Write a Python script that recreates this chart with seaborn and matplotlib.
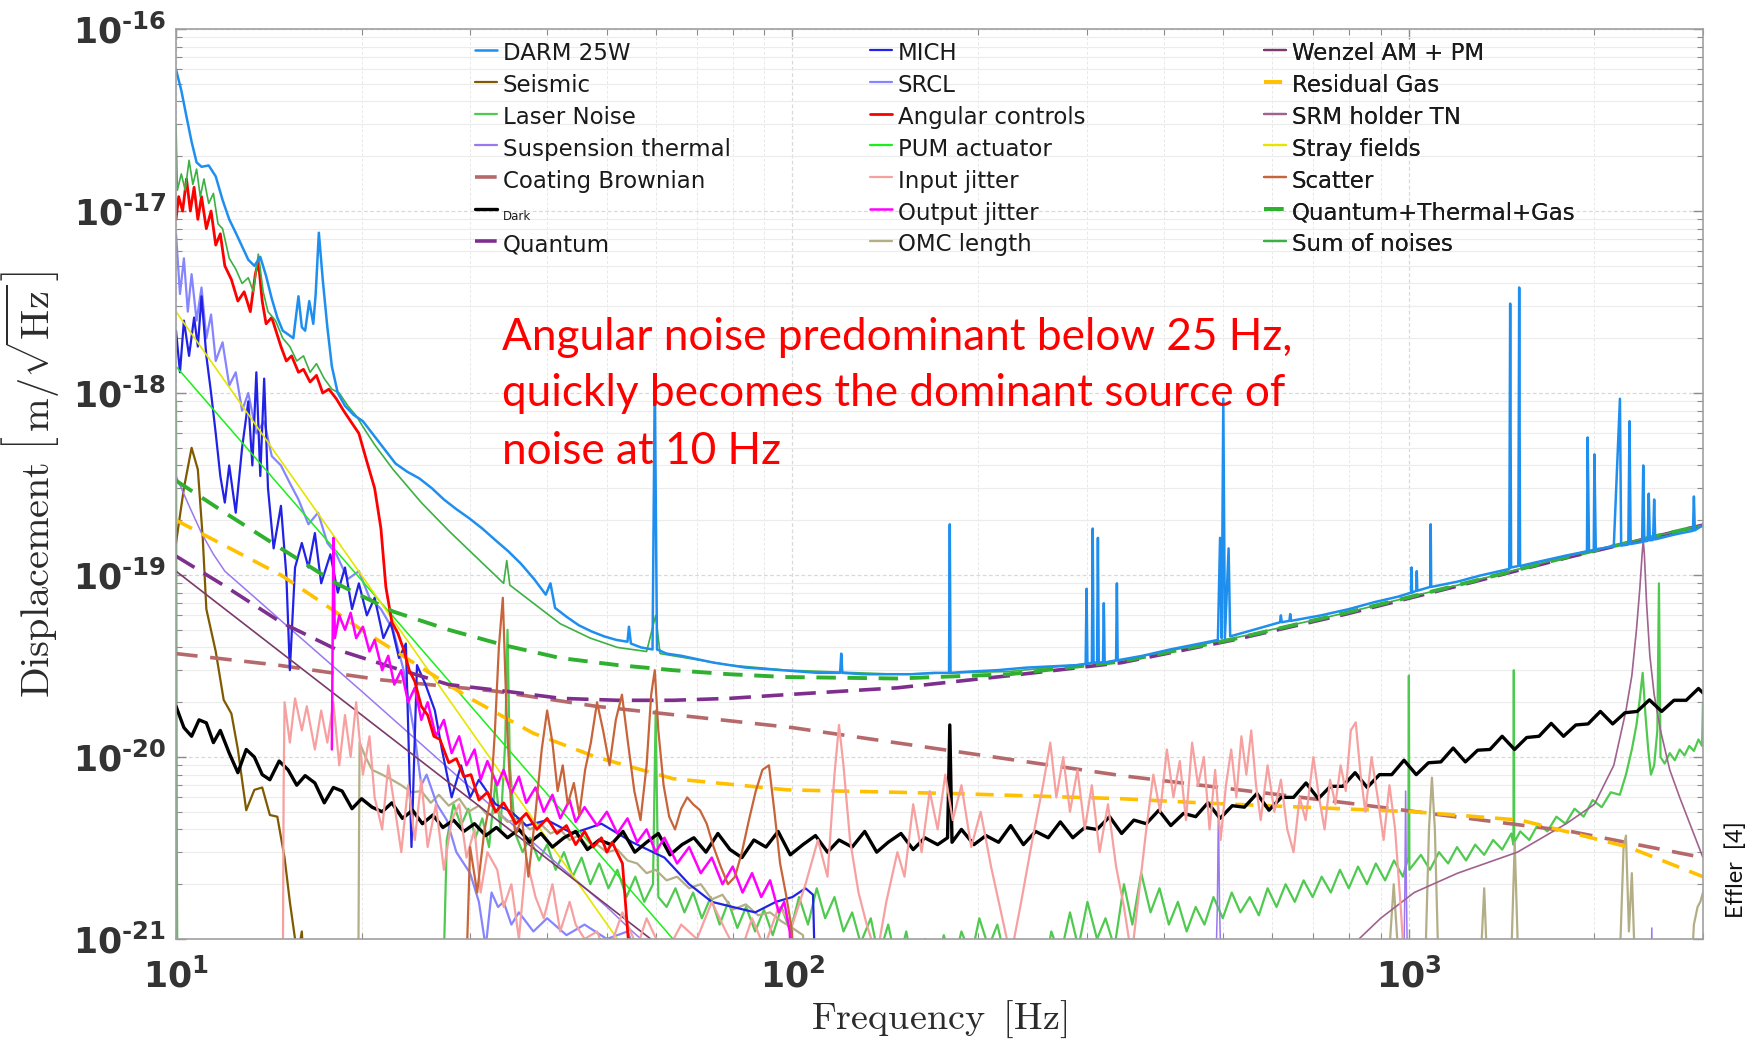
import numpy as np
import matplotlib
matplotlib.use("Agg")
import matplotlib.pyplot as plt
import seaborn as sns
from matplotlib.lines import Line2D
from matplotlib.ticker import LogLocator, NullFormatter

# ---------------- data: [frequency Hz, amplitude] ----------------
E21 = 1e-21

darm = np.array([
 [10.0,6.0e-17],[10.2,4.6e-17],[10.4,3.3e-17],[10.6,2.4e-17],[10.8,1.85e-17],[11.0,1.75e-17],
 [11.3,1.78e-17],[11.6,1.55e-17],[11.9,1.15e-17],[12.2,9.0e-18],[12.5,7.6e-18],[12.8,6.4e-18],
 [13.1,5.4e-18],[13.4,5.0e-18],[13.7,5.6e-18],[14.0,4.4e-18],[14.3,3.3e-18],[14.6,2.6e-18],
 [14.9,2.2e-18],[15.2,2.1e-18],[15.5,2.0e-18],[15.8,3.4e-18],[16.0,2.3e-18],[16.2,2.2e-18],
 [16.45,3.2e-18],[16.7,2.4e-18],[16.85,3.5e-18],[17.05,7.6e-18],[17.3,4.2e-18],[17.6,2.3e-18],
 [17.9,1.4e-18],[18.3,1.0e-18],[18.8,8.5e-19],[19.4,7.6e-19],[20.1,7.0e-19],[20.9,5.9e-19],
 [21.8,4.9e-19],[22.7,4.1e-19],[23.7,3.7e-19],[24.8,3.4e-19],[26.0,3.0e-19],[27.2,2.6e-19],
 [28.5,2.3e-19],[29.9,2.05e-19],[31.4,1.8e-19],[33.0,1.55e-19],[34.6,1.35e-19],[36.3,1.15e-19],
 [38.1,9.5e-20],[39.8,7.8e-20],[40.5,9.0e-20],[41.2,6.6e-20],[43.0,5.9e-20],[45.0,5.3e-20],
 [47.2,4.9e-20],[49.5,4.6e-20],[51.8,4.4e-20],[54.0,4.3e-20],[54.3,5.2e-20],[54.7,4.2e-20],
 [56.8,4.0e-20],[59.3,3.9e-20],[59.8,1.2e-18],[60.3,3.9e-20],[62.5,3.7e-20],[66.0,3.6e-20],
 [70.0,3.45e-20],[74.5,3.3e-20],[79.0,3.2e-20],[84.0,3.1e-20],[90.0,3.05e-20],[96.0,3.0e-20],
 [103,2.95e-20],[110,2.9e-20],[119.5,2.9e-20],[120,3.7e-20],[120.5,2.9e-20],[130,2.85e-20],
 [142,2.85e-20],[156,2.85e-20],[170,2.9e-20],[179.5,2.9e-20],[180,1.9e-19],[180.5,2.9e-20],
 [195,2.95e-20],[215,3.0e-20],[240,3.1e-20],[265,3.15e-20],[290,3.2e-20],[299,3.25e-20],
 [300,8.4e-20],[301,3.25e-20],[306,3.3e-20],[307,1.8e-19],[308,3.3e-20],[312,3.3e-20],
 [313,1.6e-19],[314,3.3e-20],[319,3.3e-20],[320,7e-20],[321,3.3e-20],[335,3.4e-20],
 [336,9e-20],[337,3.4e-20],[370,3.6e-20],[410,3.9e-20],[450,4.15e-20],[490,4.4e-20],
 [494,1.6e-19],[497,4.5e-20],[500,9.3e-19],[503,4.5e-20],[510,1.4e-19],[513,4.6e-20],
 [560,5.0e-20],[618,5.5e-20],[620,6.0e-20],[622,5.5e-20],[640,5.6e-20],[642,6.1e-20],
 [644,5.6e-20],[720,6.0e-20],[800,6.5e-20],[880,7.1e-20],[960,7.6e-20],[1008,8.0e-20],
 [1010,1.1e-19],[1012,8.0e-20],[1028,8.2e-20],[1030,1.05e-19],[1032,8.2e-20],[1083,8.6e-20],
 [1085,1.9e-19],[1087,8.6e-20],[1200,9.2e-20],[1300,9.9e-20],[1455,1.08e-19],[1460,3.1e-18],
 [1465,1.1e-19],[1505,1.12e-19],[1510,3.8e-18],[1515,1.12e-19],[1600,1.17e-19],[1800,1.28e-19],
 [1945,1.35e-19],[1950,5.7e-19],[1960,1.35e-19],[1995,1.37e-19],[2000,4.6e-19],[2010,1.38e-19],
 [2150,1.44e-19],[2200,9.3e-19],[2210,1.45e-19],[2270,1.47e-19],[2280,7.0e-19],[2290,1.48e-19],
 [2390,1.52e-19],[2400,4.0e-19],[2410,1.53e-19],[2440,1.54e-19],[2450,2.8e-19],[2460,1.55e-19],
 [2490,1.56e-19],[2500,2.6e-19],[2510,1.57e-19],[2700,1.67e-19],[2890,1.75e-19],[2900,2.7e-19],
 [2910,1.76e-19],[3000,1.88e-19]])

seismic = np.array([  # x1e-21
 [10.0,150],[10.3,300],[10.6,500],[10.85,380],[11.05,160],[11.2,65],[11.6,38],[11.95,20.6],
 [12.3,17.3],[12.6,11],[13.0,5.1],[13.4,6.6],[13.8,6.8],[14.2,4.8],[14.6,4.7],[15.0,2.8],
 [15.3,1.6],[15.6,1.0],[15.8,0.85],[16.0,1.1],[16.2,0.5]])

laser = np.array([  # x1e-21
 [10.0,900],[10.03,3.2],[10.06,0.3],[27.0,0.3],[27.5,3.5],[28.2,5.5],[29.0,4.2],[29.8,5.2],
 [30.6,3.6],[31.4,4.6],[32.2,3.2],[33.0,7.5],[33.6,4.0],[34.2,12],[34.5,50],[34.8,9],[35.5,3.8],
 [36.5,3.0],[37.5,3.6],[38.8,2.7],[40.0,3.3],[41.3,2.4],[42.6,3.0],[44.0,2.2],[45.5,2.8],
 [47.0,2.0],[48.6,2.6],[50.3,1.9],[52.0,2.4],[53.8,1.7],[55.6,2.2],[57.5,1.6],[59.4,2.0],
 [60.0,18],[60.6,1.7],[62.5,1.5],[64.6,1.9],[66.8,1.4],[69.0,1.8],[71.3,1.3],[73.7,1.7],
 [76.2,1.2],[78.7,1.6],[81.4,1.15],[84.1,1.5],[87.0,1.1],[89.9,1.45],[92.9,1.05],[96.0,1.5],
 [99.2,1.1],[102.5,1.7],[106,1.2],[109.5,1.9],[113,1.3],[117,1.7],[121,1.1],[125,1.4],
 [129,0.95],[134,1.3],[138,0.8],[143,1.2],[148,0.7],[153,1.1],[158,0.6],[164,1.0],[170,0.6],
 [176,1.05],[182,0.7],[188,1.1],[195,0.8],[201,1.3],[208,0.9],[215,1.2],[223,0.7],[230,1.0],
 [238,0.6],[246,0.9],[255,0.6],[263,1.1],[272,0.8],[282,1.4],[291,0.9],[301,1.6],[312,1.0],
 [322,1.3],[333,0.9],[345,2.0],[356,1.2],[368,2.3],[381,1.4],[394,1.9],[408,1.2],[422,1.6],
 [436,1.1],[451,1.5],[466,1.2],[482,1.7],[499,1.3],[516,1.8],[533,1.4],[552,1.7],[571,1.35],
 [590,1.9],[610,1.5],[631,2.0],[653,1.6],[675,2.1],[698,1.7],[722,2.2],[747,1.8],[773,2.4],
 [799,1.9],[827,2.5],[855,2.0],[884,2.6],[915,2.1],[946,2.7],[978,2.2],[998,2.8],[1000,28],
 [1002,2.4],[1046,2.9],[1082,2.4],[1119,3.0],[1158,2.6],[1197,3.2],[1238,2.7],[1281,3.3],
 [1325,2.9],[1370,3.5],[1417,3.1],[1466,3.8],[1478,3.3],[1480,30],[1482,3.4],[1516,3.9],
 [1568,3.5],[1622,4.3],[1678,3.9],[1735,4.7],[1795,4.3],[1857,5.2],[1921,4.7],[1987,5.8],
 [2055,5.3],[2126,6.4],[2199,6.2],[2250,8.0],[2300,11],[2340,15],[2370,21],[2395,29],
 [2420,17],[2445,11],[2470,8.0],[2500,9.0],[2530,14],[2545,90],[2560,10],[2600,9.2],
 [2650,10.5],[2700,9.6],[2750,11],[2800,10.2],[2850,11.5],[2900,10.8],[2950,12.5],[2990,11.5],
 [3000,20]])

susp = np.array([  # x1e-21
 [10,350],[10.5,240],[11,170],[11.5,130],[12,105],[13.5,74],[15,54],[20,23],[30,6.8],[40,2.9],
 [50,1.5],[55,1.1],[60,0.85],[485,0.5],[489,1.5],[491,5.3],[493,1.5],[497,0.5],[980,0.5],
 [985,1.8],[988,6.5],[991,1.8],[996,0.5],[2470,0.5],[2478,1.15],[2486,0.5]])

coating = np.array([
 [10,3.7e-20],[14.6,3.2e-20],[21.6,2.65e-20],[33,2.3e-20],[48,1.9e-20],[100,1.45e-20],
 [342,7.9e-21],[791,5.6e-21],[1830,3.9e-21],[3000,2.8e-21]])

dark = np.array([  # x1e-21
 [10,19.0],[10.3,14.5],[10.6,13.0],[10.9,16.0],[11.2,15.4],[11.5,12.0],[11.8,14.0],[12.2,10.5],
 [12.6,8.2],[13.0,11.0],[13.4,10.0],[13.8,8.0],[14.2,7.5],[14.7,9.5],[15.2,8.5],[15.7,7.0],
 [16.2,7.9],[16.8,7.2],[17.4,5.6],[18.0,6.8],[18.6,6.5],[19.3,5.2],[20.0,5.9],[20.8,5.3],
 [21.6,5.0],[22.4,5.6],[23.3,4.6],[24.2,5.1],[25.1,4.3],[26.1,4.8],[27.1,4.1],[28.2,4.5],
 [29.3,3.9],[30.5,4.3],[31.8,3.7],[33.1,4.1],[34.5,3.6],[36.0,4.0],[37.5,3.4],
 [39.1,3.8],[40.8,3.2],[42.6,3.6],[44.5,3.9],[46.5,3.1],[48.6,3.5],[50.8,3.3],[53.1,3.9],
 [55.5,3.0],[58.0,3.4],[60.6,3.8],[63.3,2.9],[66.2,3.3],[69.2,3.6],[72.4,3.0],[75.7,3.8],
 [79.2,3.1],[82.8,2.8],[86.6,3.5],[90.6,3.2],[94.8,3.9],[99.2,2.9],[104,3.3],[109,3.7],
 [114,3.0],[119,3.5],[125,3.2],[131,3.9],[137,3.0],[143,3.4],[150,3.8],[157,3.1],[164,3.6],
 [172,3.3],[178.5,3.6],[180,15.0],[181.5,3.4],[188,4.0],[197,3.3],[206,3.7],[216,3.4],
 [226,4.2],[237,3.3],[248,3.9],[260,3.6],[272,4.4],[285,3.6],[298,4.1],[312,4.0],[327,4.7],
 [342,3.8],[358,4.5],[375,4.3],[393,5.1],[411,4.2],[431,4.9],[451,4.7],[472,5.6],[494,4.6],
 [517,5.4],[541,5.3],[567,6.3],[593,5.1],[621,6.0],[650,6.0],[681,7.2],[713,5.9],[746,6.9],
 [781,6.9],[818,8.2],[856,6.8],[896,8.0],[938,8.0],[982,9.6],[1028,8.0],[1076,9.3],[1127,9.4],
 [1180,11.2],[1235,9.4],[1293,10.9],[1354,11.0],[1417,13.0],[1484,11.0],[1553,12.8],
 [1626,13.0],[1702,15.3],[1782,13.0],[1866,15.0],[1953,15.2],[2045,17.8],[2141,15.2],
 [2241,17.5],[2346,17.8],[2456,20.6],[2571,17.8],[2692,20.5],[2818,20.5],[2950,23.8],[3000,22.5]])

quantum = np.array([
 [10,1.27e-19],[12,8.7e-20],[14.8,5.5e-20],[18.2,3.9e-20],[22.5,3.1e-20],[27.7,2.5e-20],
 [34.2,2.3e-20],[42.1,2.1e-20],[52,2.05e-20],[64.1,2.05e-20],[79.1,2.1e-20],[97.6,2.2e-20],
 [148,2.4e-20],[225,2.8e-20],[342,3.3e-20],[520,4.4e-20],[791,6.1e-20],[1200,8.7e-20],
 [1830,1.26e-19],[3000,1.88e-19]])

mich = np.array([  # x1e-21
 [10.0,2200],[10.15,1300],[10.3,2500],[10.5,1600],[10.7,2600],[10.85,1800],[11.0,3400],
 [11.2,1600],[11.4,1000],[11.6,600],[11.8,350],[12.0,250],[12.2,400],[12.5,220],[12.8,500],
 [13.1,900],[13.3,400],[13.5,1300],[13.7,350],[13.9,1200],[14.1,300],[14.4,140],[14.8,240],
 [15.1,100],[15.3,30],[15.6,110],[16.0,150],[16.4,110],[16.8,170],[17.2,90],[17.8,130],
 [18.3,80],[18.8,110],[19.3,65],[19.8,90],[20.4,60],[21.0,75],[21.7,45],[22.3,55],[23.0,35],
 [23.6,42],[24.1,3.2],[24.6,32],[25.4,25],[26.3,18],[27.0,11],[28.0,6],[29.0,9],[30.0,6],
 [31.0,7.5],[33.0,5.5],[35.0,5.0],[37.0,4.2],[40.0,4.5],[44.0,3.8],[49.0,4.3],[55.0,3.4],
 [62.0,2.8],[68.0,2.0],[74.0,1.6],[80.0,1.5],[87.0,1.4],[94.0,1.6],[100,1.7],[105,1.9],
 [108,1.75],[109,0.5]])

srcl = np.array([  # x1e-21
 [10.0,7500],[10.15,3500],[10.3,5500],[10.45,2800],[10.6,4500],[10.8,2500],[11.0,3800],
 [11.2,2000],[11.4,2700],[11.6,1500],[11.9,1900],[12.2,1100],[12.5,1300],[12.8,800],[13.1,1000],
 [13.5,600],[13.9,700],[14.3,450],[14.8,400],[15.3,320],[15.8,260],[16.4,190],[17.0,220],
 [17.6,150],[18.2,130],[19.0,95],[19.8,105],[20.6,75],[21.5,65],[22.5,50],[23.4,30],[24.4,13],
 [25.0,7],[25.5,8],[26.5,5.5],[27.5,4.5],[28.5,3.0],[30,2.3],[31,1.6],[31.8,0.9],[32.5,1.8],
 [33.3,1.5],[34,1.6],[35,1.2],[36,1.4],[38,1.1],[40,1.3],[43,1.05],[46,1.2],[50,1.0],[54,1.1],
 [58,0.6]])

angular = np.array([
 [10.0,9.0e-18],[10.1,1.2e-17],[10.25,1.0e-17],[10.4,1.5e-17],[10.55,1.0e-17],[10.7,1.35e-17],
 [10.85,9e-18],[11.0,1.2e-17],[11.2,8e-18],[11.4,1.0e-17],[11.6,6.5e-18],[11.8,7.5e-18],
 [12.0,5e-18],[12.3,4.2e-18],[12.6,3.2e-18],[12.9,3.6e-18],[13.2,2.8e-18],[13.45,4.5e-18],
 [13.6,5.3e-18],[13.8,3.2e-18],[14.0,2.4e-18],[14.3,2.6e-18],[14.8,1.8e-18],[15.1,1.5e-18],
 [15.4,1.6e-18],[15.8,1.3e-18],[16.1,1.35e-18],[16.5,1.15e-18],[16.9,1.25e-18],[17.3,1.0e-18],
 [17.7,1.05e-18],[18.2,9.3e-19],[18.7,8.0e-19],[19.2,7.0e-19],[19.8,6.0e-19],[20.4,4.2e-19],
 [21.0,3.0e-19],[21.5,1.8e-19],[21.9,8.6e-20],[22.4,5.5e-20],[22.9,4.8e-20],[23.4,3.9e-20],
 [23.9,3.0e-20],[24.4,2.6e-20],[25.0,1.9e-20],[25.6,1.7e-20],[26.2,1.3e-20],[26.8,1.25e-20],
 [27.7,9.3e-21],[28.5,9.8e-21],[29.3,7.8e-21],[30.1,8.0e-21],[31.0,5.8e-21],[32,6.4e-21],
 [33,5.0e-21],[34,5.6e-21],[35.6,4.3e-21],[37,4.9e-21],[38.5,4.0e-21],[40,4.6e-21],
 [41.5,3.8e-21],[43,4.2e-21],[44.5,3.3e-21],[46,3.9e-21],[47.5,3.2e-21],[49,3.6e-21],
 [50,3.0e-21],[51,3.4e-21],[53,2.6e-21],[55,0.5e-21]])

pum = np.array([[10,1.4e-18],[64,1.0e-21],[70,0.7e-21]])

input_jit = np.array([  # x1e-21
 [14.9,0.5],[14.95,7.0],[15.0,20],[15.3,12],[15.6,21],[16.0,14],[16.3,19],[16.8,11],[17.2,18],
 [17.6,12],[18.0,20],[18.4,9],[18.8,17],[19.2,10],[19.6,20],[20.1,8],[20.6,13],[21.0,6],
 [21.6,4.0],[22.1,9],[22.6,5.5],[23.2,3.0],[23.8,7],[24.4,3.5],[25.0,7.5],[25.6,3.2],[26.4,5.5],
 [27.2,2.4],[28.0,4.5],[28.8,5.5],[29.6,2.8],[30.5,4.0],[31.2,1.8],[32.0,3.0],[33.2,2.4],
 [34.0,1.5],[35.0,2.0],[36.0,1.0],[37.0,2.8],[38.3,1.7],[39.5,1.3],[40.8,2.0],[42.0,1.1],
 [43.5,1.6],[44.5,1.2],[46.0,1.0],[48.2,1.1],[50,0.8],[53,1.4],[56,0.9],[58,1.3],[62,0.8],
 [66,1.2],[70,1.0],[74,1.6],[78,1.1],[82,0.8],[86,1.3],[90,0.9],[95,1.5],[100,1.2],[105,2.0],
 [110,3.5],[114,2.2],[117,8],[119,15],[121,9],[124,3.5],[128,1.8],[132,1.2],[137,0.8],[142,1.6],
 [148,3.0],[152,2.2],[157,5.5],[162,3.0],[167,6.5],[172,4.0],[177,8.0],[182,4.5],[188,7],
 [195,3.2],[202,5.0],[210,2.5],[218,1.4],[226,0.8],[235,1.6],[245,3.5],[255,7],[262,12],
 [268,6],[275,10],[282,5],[290,8.5],[298,4],[306,7],[315,3],[325,5.5],[335,2.5],[345,1.5],
 [355,0.8],[365,1.8],[375,4],[385,8],[395,5],[405,11],[415,6],[425,9.5],[435,4.5],[445,12],
 [455,7],[465,10],[475,4],[485,8.5],[495,3.5],[505,7],[515,11],[525,6],[535,13],[545,8],
 [555,14],[565,7],[575,4.5],[590,9],[605,5],[620,7.5],[635,4],[650,3.0],[665,6],[680,4.5],
 [700,10],[715,6],[730,4],[745,7.5],[760,5.5],[775,9],[790,6.5],[805,14],[820,15.5],[835,8],
 [850,5],[870,10],[890,6],[910,3.5],[930,7],[950,4],[970,1.5],[990,0.5]])

output_jit = np.array([  # x1e-21
 [17.9,11],[18.0,160],[18.1,45],[18.4,60],[18.8,50],[19.2,62],[19.6,45],[20.1,52],[20.6,38],
 [21.0,44],[21.6,30],[22.1,36],[22.6,25],[23.2,30],[23.8,20],[24.4,24],[25.0,16],[25.6,20],
 [26.4,13],[27.2,16],[28.0,10.5],[28.8,13],[29.6,9],[30.5,11],[31.2,7.5],[32.0,9.5],[33.2,7],
 [34.0,8.5],[35.0,6.3],[36.0,7.8],[37.0,5.6],[38.3,6.8],[39.5,5.0],[40.8,6.2],[42.0,4.6],
 [43.5,5.8],[44.5,4.4],[46.0,5.3],[48.2,4.2],[50,5.0],[52,3.8],[54,4.6],[56,3.4],[58,4.0],
 [60,3.0],[62,3.6],[65,2.6],[68,3.2],[71,2.3],[74,2.8],[77,2.0],[80,2.5],[83,1.8],[86,2.3],
 [89,1.7],[92,2.1],[95,1.4],[97,1.6],[99,1.1],[100,0.5]])

omc = np.array([  # x1e-21
 [19.75,0.5],[19.85,12],[20.3,10],[20.8,8.5],[21.6,8.0],[22.4,7.5],[23.2,7.0],[24.1,6.4],
 [25.0,6.5],[25.9,5.6],[26.7,6.2],[27.7,5.4],[28.8,5.9],[29.8,5.0],[31.0,5.4],[32.0,4.8],
 [33.2,5.0],[34.5,4.4],[36.0,4.6],[37.5,4.0],[39.0,4.3],[40.5,3.8],[42.0,4.0],[43.5,3.5],
 [45.0,3.7],[46.6,3.2],[48.2,3.3],[50,3.0],[52,3.1],[54,2.7],[56,2.6],[58,2.3],[60,2.4],
 [62.5,2.1],[65,2.2],[68,1.9],[71,2.0],[74,1.65],[77,1.75],[80,1.45],[84,1.55],[88,1.35],
 [92,1.4],[96,1.25],[100,1.15],[104,1.05],[106,0.5],[920,0.5],[945,2.0],[970,0.5],[1060,0.5],
 [1078,4.0],[1090,7.7],[1102,4.0],[1120,0.5],[1300,0.5],[1325,1.9],[1345,0.5],[1460,0.5],
 [1485,3.4],[1510,0.5],[2190,0.5],[2230,3.2],[2250,3.7],[2275,1.1],[2300,2.3],[2335,0.5],
 [2860,0.5],[2900,1.2],[2940,1.5],[2970,1.6],[3000,1.8]])

wenzel = np.array([[10,1.05e-19],[58.9,1.0e-21],[65,0.75e-21]])

gas = np.array([
 [10,2.0e-19],[12,1.45e-19],[14.8,1.0e-19],[17,7.3e-20],[20,5.0e-20],[25,3.1e-20],[30,2.1e-20],
 [38,1.35e-20],[48,1.0e-20],[64,7.6e-21],[98,6.6e-21],[182,6.3e-21],[342,5.9e-21],[458,5.6e-21],
 [1020,5.0e-21],[1517,4.5e-21],[2270,3.2e-21],[3000,2.2e-21]])

srm = np.array([
 [800,0.9e-21],[830,1.0e-21],[900,1.3e-21],[1020,1.8e-21],[1200,2.3e-21],[1500,3.0e-21],
 [1800,4.3e-21],[2000,5.5e-21],[2150,9e-21],[2250,1.8e-20],[2300,2.8e-20],[2340,5e-20],
 [2370,8.5e-20],[2390,1.3e-19],[2400,1.55e-19],[2410,1.3e-19],[2430,7e-20],[2460,3.6e-20],
 [2500,2.2e-20],[2560,1.4e-20],[2650,8.5e-21],[2750,6e-21],[2880,4e-21],[3000,2.8e-21]])

stray = np.array([[10,2.8e-18],[22.8,5.3e-20],[52,1.0e-21],[60,0.5e-21]])

scatter = np.array([  # x1e-21
 [29.5,0.5],[30.0,3.2],[30.8,1.8],[31.6,3.8],[32.4,6],[32.9,13.6],[33.4,40],[33.9,75],[34.4,16],
 [35.0,5],[35.6,3.8],[36.4,4.6],[37.3,2.2],[38.2,4.5],[39.2,11],[40.0,18],[40.8,12],[41.6,6.5],
 [42.4,9],[43.2,5.5],[44.2,7.2],[45.1,4.8],[46.1,8.5],[47.1,12],[48.2,20],[49.3,14],[50.5,9],
 [51.7,16],[52.9,22],[54.1,12],[55.4,6.5],[56.7,4.5],[58.0,9],[59.0,22],[59.8,30],[60.6,14],
 [61.8,7],[63.1,4.7],[64.5,4.0],[66.0,5.2],[67.5,6.0],[69.0,5.5],[70.8,5.1],[72.6,4.3],
 [74.5,3.2],[76.5,2.5],[78.6,2.0],[80.7,2.2],[82.8,3.0],[85.0,4.5],[87.2,6.5],[89.4,8.5],
 [91.6,9.0],[93.5,5.0],[95.5,2.6],[97.5,1.8],[99.5,1.2],[101.5,0.5]])

qtg = np.array([
 [10,3.3e-19],[12,2.2e-19],[14.8,1.4e-19],[18.2,9e-20],[22.5,6.3e-20],[27.7,5.0e-20],
 [34.2,4.1e-20],[42,3.5e-20],[52,3.2e-20],[64,3.0e-20],[79,2.85e-20],[98,2.75e-20],
 [148,2.7e-20],[225,2.85e-20],[342,3.35e-20],[520,4.45e-20],[791,6.2e-20],[1200,8.8e-20],
 [1830,1.27e-19],[3000,1.88e-19]])

sum_noise = np.array([
 [10,3.0e-17],[10.05,1.3e-17],[10.2,1.6e-17],[10.35,1.3e-17],[10.5,1.9e-17],[10.65,1.4e-17],
 [10.8,1.7e-17],[10.95,1.2e-17],[11.1,1.5e-17],[11.3,1.1e-17],[11.5,1.25e-17],[11.7,8.5e-18],
 [11.9,8e-18],[12.2,5.5e-18],[12.5,4.8e-18],[12.8,4e-18],[13.1,4.3e-18],[13.35,3.6e-18],
 [13.6,5.8e-18],[13.85,3.6e-18],[14.1,2.8e-18],[14.5,2.5e-18],[14.9,2.0e-18],[15.3,1.8e-18],
 [15.7,1.5e-18],[16.1,1.6e-18],[16.5,1.3e-18],[16.9,1.45e-18],[17.4,1.2e-18],[17.9,1.05e-18],
 [18.4,1.0e-18],[19.0,8.5e-19],[19.6,7.5e-19],[20.3,6.2e-19],[21.0,5.2e-19],[22.5,3.8e-19],
 [25,2.5e-19],[27.7,1.75e-19],[30,1.35e-19],[34,9e-20],[34.4,1.2e-19],[34.8,8.8e-20],
 [38,7e-20],[42,5.4e-20],[47,4.5e-20],[52,4.0e-20],[58,3.8e-20],[60,6e-20],[61,3.7e-20],
 [64,3.6e-20],[79,3.2e-20],[98,3.0e-20],[148,2.85e-20],[225,2.95e-20],[342,3.4e-20],
 [520,4.5e-20],[791,6.2e-20],[1200,8.8e-20],[1830,1.28e-19],[3000,1.88e-19]])

x_tick_labels = ["10^{1}", "10^{2}", "10^{3}"]
y_tick_labels = ["10^{\u201021}", "10^{\u201020}", "10^{\u201019}",
                 "10^{\u201018}", "10^{\u201017}", "10^{\u201016}"]

# ---------------- style ----------------
sns.set_theme(style="white")
plt.rcParams["font.family"] = ["DejaVu Sans"]

fig = plt.figure(figsize=(17.6, 10.39), dpi=100)
ax = fig.add_axes([0.1, 0.09625, 0.8676, 0.8758])
ax.set_xscale("log")
ax.set_yscale("log")

DASH_Q = (0, (6, 3))
DASH_C = (0, (6, 3.5))
DASH_G = (0, (5, 3))

# name, array, scale, color, lw, linestyle
series = {
    "DARM 25W":            (darm, 1.0, "#1f8fef", 1.8, "-"),
    "Seismic":             (seismic, E21, "#7f5a00", 1.6, "-"),
    "Laser Noise":         (laser, E21, "#4fca4f", 1.6, "-"),
    "Suspension thermal":  (susp, E21, "#9a78f0", 1.1, "-"),
    "Coating Brownian":    (coating, 1.0, "#b5696b", 2.6, DASH_C),
    "Dark":                (dark, E21, "#000000", 2.4, "-"),
    "Quantum":             (quantum, 1.0, "#7e2f8e", 2.6, DASH_Q),
    "MICH":                (mich, E21, "#2222e6", 1.6, "-"),
    "SRCL":                (srcl, E21, "#8585ff", 1.6, "-"),
    "Angular controls":    (angular, 1.0, "#ff0000", 2.0, "-"),
    "PUM actuator":        (pum, 1.0, "#19f019", 1.1, "-"),
    "Input jitter":        (input_jit, E21, "#f7a0a0", 1.6, "-"),
    "Output jitter":       (output_jit, E21, "#ff00ff", 1.8, "-"),
    "OMC length":          (omc, E21, "#b3ae85", 1.6, "-"),
    "Wenzel AM + PM":      (wenzel, 1.0, "#7a3a6a", 1.2, "-"),
    "Residual Gas":        (gas, 1.0, "#ffc000", 2.6, DASH_G),
    "SRM holder TN":       (srm, 1.0, "#a0628e", 1.2, "-"),
    "Stray fields":        (stray, 1.0, "#e5e500", 1.2, "-"),
    "Scatter":             (scatter, E21, "#c8643a", 1.6, "-"),
    "Quantum+Thermal+Gas": (qtg, 1.0, "#2fb02f", 2.8, DASH_G),
    "Sum of noises":       (sum_noise, 1.0, "#3cb043", 1.2, "-"),
}

draw_order = ["Laser Noise", "Seismic", "Suspension thermal", "Coating Brownian", "OMC length",
              "SRCL", "MICH", "PUM actuator", "Stray fields", "Wenzel AM + PM", "SRM holder TN",
              "Residual Gas", "Quantum", "Dark", "Input jitter", "Output jitter", "Scatter",
              "Angular controls", "Quantum+Thermal+Gas", "Sum of noises", "DARM 25W"]

for name in draw_order:
    arr, sc, col, lw, ls = series[name]
    sns.lineplot(x=arr[:, 0], y=arr[:, 1] * sc, ax=ax, color=col, linewidth=lw,
                 linestyle=ls, estimator=None, sort=False, legend=False)

ax.set_xlim(10, 3000)
ax.set_ylim(1e-21, 1e-16)

# ticks
ax.set_xticks([10, 100, 1000], labels=[r"$\mathbf{%s}$" % s for s in x_tick_labels])
ax.set_yticks([1e-21, 1e-20, 1e-19, 1e-18, 1e-17, 1e-16],
              labels=[r"$\mathbf{%s}$" % s for s in y_tick_labels])
ax.xaxis.set_minor_locator(LogLocator(base=10, subs=np.arange(2, 10), numticks=30))
ax.yaxis.set_minor_locator(LogLocator(base=10, subs=np.arange(2, 10), numticks=30))
ax.xaxis.set_minor_formatter(NullFormatter())
ax.yaxis.set_minor_formatter(NullFormatter())
ax.tick_params(which="both", direction="in", top=True, right=True, bottom=True, left=True,
               color="#8c8c8c")
ax.tick_params(which="major", length=7, width=1.0, labelsize=25, labelcolor="#333333")
ax.tick_params(which="minor", length=4, width=0.8)
ax.tick_params(axis="x", which="major", pad=14)
ax.tick_params(axis="y", which="major", pad=7)

ax.xaxis.grid(True, which="major", color="#d9d9d9", lw=0.9, ls=(0, (3, 2)))
ax.xaxis.grid(True, which="minor", color="#e8e8e8", lw=0.7, ls=(0, (3, 2)))
ax.yaxis.grid(True, which="major", color="#d9d9d9", lw=0.9, ls=(0, (3, 2)))
ax.yaxis.grid(True, which="minor", color="#ececec", lw=0.8, ls="-")
ax.set_axisbelow(True)
for sp in ax.spines.values():
    sp.set_color("#a0a0a0")
    sp.set_linewidth(1.2)

ax.set_ylabel(r"$\mathrm{Displacement}\;\left[\,\mathrm{m}/\sqrt{\mathrm{Hz}}\,\right]$",
              fontsize=29, color="#2b2b2b", math_fontfamily="cm")
ax.yaxis.set_label_coords(-0.075, 0.5)
ax.set_xlabel(r"$\mathrm{Frequency}\;\;[\mathrm{Hz}]$", fontsize=27.5, color="#2b2b2b",
              math_fontfamily="cm")
ax.xaxis.set_label_coords(0.5, -0.066)

# legends (three columns)
legend_cols = [
    ["DARM 25W", "Seismic", "Laser Noise", "Suspension thermal", "Coating Brownian", "Dark", "Quantum"],
    ["MICH", "SRCL", "Angular controls", "PUM actuator", "Input jitter", "Output jitter", "OMC length"],
    ["Wenzel AM + PM", "Residual Gas", "SRM holder TN", "Stray fields", "Scatter",
     "Quantum+Thermal+Gas", "Sum of noises"],
]
col_x = [475 / 1760, 870 / 1760, 1264 / 1760]
for names, x0 in zip(legend_cols, col_x):
    handles = []
    for n in names:
        arr, sc, col, lw, ls = series[n]
        handles.append(Line2D([], [], color=col, lw=max(lw, 1.6), ls=ls))
    leg = ax.legend(handles, names, loc="upper left", bbox_to_anchor=(x0, 1 - 39.5 / 1039),
                    bbox_transform=fig.transFigure, frameon=False, fontsize=16.5,
                    handlelength=0.96, handletextpad=0.26, labelspacing=0.22,
                    handleheight=1.42, borderpad=0, borderaxespad=0)
    for t in leg.get_texts():
        t.set_color("#1a1a1a")
        if t.get_text() == "Dark":
            t.set_fontsize(8.5)
    ax.add_artist(leg)

# annotation
red_lines = ["Angular noise predominant below 25 Hz,",
             "quickly becomes the dominant source of",
             "noise at 10 Hz"]
for i, s in enumerate(red_lines):
    fig.text(502 / 1760, 1 - (337 + 57 * i) / 1039, s, color="#ff0000", fontsize=31.8,
             family="Lato", va="center", ha="left")

fig.text(1736 / 1760, 1 - 870 / 1039, "Effler  [4]", rotation=90, ha="center", va="center",
         fontsize=17, family="Lato", color="#111111")

fig.savefig("out.png", dpi=100)
